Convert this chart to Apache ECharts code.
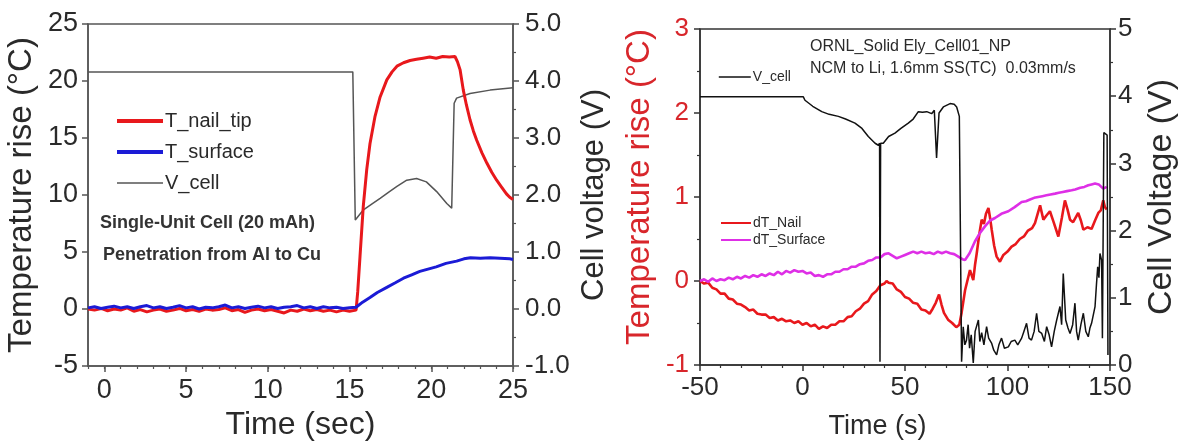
<!DOCTYPE html>
<html>
<head>
<meta charset="utf-8">
<script src="https://cdn.jsdelivr.net/npm/echarts@6/dist/echarts.min.js"></script>
<style>
  html, body { margin: 0; padding: 0; background: #fff; }
  #wrap { position: relative; width: 1178px; height: 444px; overflow: hidden; }
  .panel { position: absolute; left: 0; top: 0; width: 1178px; height: 444px; }
</style>
</head>
<body>
<div id="wrap">
  <div id="left" class="panel"></div>
  <div id="right" class="panel"></div>
</div>
<script>
// ---------- Single-unit cell nail test: [time s, value] ----------
const nailTip = [
  [-1,0.00],[-0.6,-0.10],[-0.2,0.05],[0.2,-0.15],[0.6,0.00],[1.0,-0.10],[1.4,0.10],[1.8,-0.20],
  [2.2,-0.05],[2.6,-0.25],[3.0,-0.10],[3.4,0.00],[3.8,-0.20],[4.2,-0.10],[4.6,0.05],[5.0,-0.15],
  [5.4,-0.05],[5.8,-0.20],[6.2,0.00],[6.6,-0.10],[7.0,-0.05],[7.4,0.10],[7.8,-0.15],[8.2,-0.05],
  [8.6,-0.30],[9.0,-0.10],[9.4,0.00],[9.8,-0.15],[10.2,-0.05],[10.6,-0.20],[11.0,-0.35],[11.4,-0.10],
  [11.8,-0.20],[12.2,0.00],[12.6,-0.15],[13.0,-0.05],[13.4,-0.20],[13.8,-0.10],[14.2,-0.25],[14.6,-0.10],
  [15.0,-0.20],[15.4,-0.10],[15.5,1.5],[15.64,4.6],[15.84,9.0],[16.05,12.2],[16.25,14.5],[16.56,16.9],
  [16.87,18.6],[17.28,20.1],[17.6,20.8],[17.9,21.3],[18.3,21.6],[18.7,21.8],[19.1,21.9],[19.5,22.0],
  [19.9,22.1],[20.3,22.0],[20.7,22.15],[21.1,22.1],[21.45,22.15],[21.6,21.7],[21.76,21.0],[21.96,19.2],
  [22.15,17.9],[22.37,16.6],[22.58,15.6],[22.78,14.8],[23.1,13.7],[23.4,12.8],[23.7,12.0],[24.0,11.3],
  [24.3,10.7],[24.6,10.1],[24.8,9.8],[25,9.6]
];
const surface = [
  [-1,0.10],[-0.6,0.20],[-0.2,0.05],[0.2,0.15],[0.6,0.25],[1.0,0.10],[1.4,0.20],[1.8,0.05],
  [2.2,0.20],[2.6,0.30],[3.0,0.10],[3.4,0.20],[3.8,0.05],[4.2,0.15],[4.6,0.30],[5.0,0.10],
  [5.4,0.20],[5.8,0.00],[6.2,0.15],[6.6,0.10],[7.0,0.20],[7.4,0.35],[7.8,0.10],[8.2,0.20],
  [8.6,0.05],[9.0,0.15],[9.4,0.25],[9.8,0.10],[10.2,0.20],[10.6,0.05],[11.0,0.15],[11.4,0.20],
  [11.8,0.30],[12.2,0.10],[12.6,0.20],[13.0,0.05],[13.4,0.20],[13.8,0.10],[14.2,0.15],[14.6,0.05],
  [15.0,0.10],[15.4,0.15],[15.8,0.60],[16.25,1.00],[16.7,1.45],[17.28,1.90],[17.8,2.30],[18.3,2.70],
  [18.8,3.00],[19.3,3.30],[19.8,3.50],[20.3,3.70],[20.9,4.00],[21.55,4.20],[22.0,4.40],[22.4,4.50],
  [23.0,4.45],[23.6,4.50],[24.2,4.45],[24.8,4.40],[25,4.35]
];
const cellVoltage = [
  [-1,4.16],[15.2,4.16],[15.35,1.56],[15.85,1.74],[16.4,1.85],[16.87,1.94],[17.4,2.05],[17.9,2.15],
  [18.5,2.26],[19.1,2.29],[19.7,2.23],[20.33,2.06],[20.95,1.85],[21.25,1.77],[21.35,1.80],[21.4,3.61],
  [21.55,3.70],[22.37,3.78],[23.6,3.84],[25,3.88]
];
const timeTicksA = [0, 5, 10, 15, 20, 25];

// ---------- ORNL solid electrolyte cell: [time s, value] ----------
const dTNail = [
  [-50,0.00],[-48,-0.03],[-46,-0.02],[-44,-0.08],[-42,-0.10],[-40,-0.15],[-38,-0.15],[-36,-0.21],
  [-34,-0.22],[-32,-0.27],[-30,-0.28],[-28,-0.31],[-26,-0.35],[-24,-0.34],[-22,-0.39],[-20,-0.40],
  [-18,-0.40],[-16,-0.44],[-14,-0.43],[-12,-0.47],[-10,-0.45],[-8,-0.48],[-6,-0.47],[-4,-0.50],
  [-2,-0.48],[0,-0.52],[2,-0.50],[4,-0.54],[6,-0.52],[8,-0.57],[10,-0.54],[12,-0.56],[14,-0.52],
  [16,-0.52],[18,-0.48],[20,-0.48],[22,-0.43],[24,-0.42],[26,-0.36],[28,-0.33],[30,-0.27],[32,-0.24],
  [34,-0.16],[36,-0.12],[38,-0.05],[40,-0.03],[41,0.00],[42,-0.02],[44,-0.03],[46,-0.10],[48,-0.13],
  [50,-0.19],[52,-0.21],[54,-0.26],[56,-0.27],[58,-0.34],[60,-0.35],[62,-0.39],[63.5,-0.33],[65,-0.26],
  [66.6,-0.16],[67.8,-0.28],[69,-0.38],[71,-0.46],[73,-0.50],[75,-0.55],[76.5,-0.52],[77.6,-0.38],
  [79.3,-0.11],[80.9,0.05],[81.7,0.13],[83.3,0.01],[84.2,0.20],[85,0.33],[86.2,0.55],[87.4,0.73],
  [88.5,0.68],[89.5,0.80],[90.7,0.87],[91.5,0.75],[92.3,0.61],[93.5,0.42],[94.7,0.29],[96.3,0.23],
  [98,0.31],[100,0.35],[102,0.41],[104,0.44],[106,0.50],[108,0.53],[110,0.60],[112,0.63],[113.4,0.69],
  [115.9,0.90],[117.5,0.73],[119,0.78],[120.7,0.83],[122.5,0.70],[124.8,0.53],[126.5,0.75],[128,0.96],
  [129.3,0.85],[130.5,0.73],[132,0.70],[134.5,0.81],[135.8,0.72],[137,0.61],[139,0.64],[141,0.62],
  [142.7,0.72],[144.3,0.81],[145.5,0.84],[146.7,0.96],[147.5,0.88],[148.4,0.85]
];
const dTSurface = [
  [-50,0.00],[-48,0.02],[-46,-0.01],[-44,0.03],[-42,0.00],[-40,0.02],[-38,0.01],[-36,0.04],[-34,0.02],
  [-32,0.05],[-30,0.03],[-28,0.06],[-26,0.04],[-24,0.07],[-22,0.05],[-20,0.08],[-18,0.06],[-16,0.09],
  [-14,0.07],[-12,0.11],[-10,0.08],[-8,0.12],[-6,0.10],[-4,0.13],[-2,0.11],[0,0.12],[2,0.09],[4,0.10],
  [6,0.06],[8,0.07],[10,0.05],[12,0.08],[14,0.08],[16,0.11],[18,0.11],[20,0.14],[22,0.14],[24,0.17],
  [26,0.17],[28,0.20],[30,0.21],[32,0.24],[34,0.25],[36,0.28],[38,0.28],[40,0.32],[42,0.33],[44,0.30],
  [46,0.27],[48,0.29],[50,0.31],[52,0.33],[54,0.35],[56,0.33],[58,0.35],[60,0.33],[62,0.34],[64,0.32],
  [66,0.35],[68,0.33],[70,0.35],[72,0.33],[74,0.32],[76,0.29],[78,0.26],[79.3,0.25],[81.5,0.33],
  [84.1,0.47],[86.5,0.57],[89,0.65],[91.5,0.72],[93.9,0.75],[97,0.80],[100.4,0.83],[103.5,0.88],
  [106.9,0.94],[109,0.95],[111,0.97],[113,0.99],[115,1.00],[117,1.01],[119,1.02],[121,1.03],[123.2,1.04],
  [125,1.05],[127,1.06],[129,1.07],[131.3,1.08],[133,1.09],[135.5,1.11],[137.5,1.12],[139.4,1.14],
  [141,1.15],[142.7,1.16],[144.5,1.15],[146.7,1.10],[148.4,1.12]
];
const vCell = [
  [-50,3.99],[0.4,3.99],[1.2,3.94],[5,3.85],[9.4,3.77],[13,3.73],[17.5,3.70],[21,3.66],[25.6,3.60],
  [29,3.52],[32.1,3.40],[35.4,3.30],[37,3.27],[37.6,3.30],[37.8,0.05],[38.1,3.30],[39.4,3.30],[42,3.40],
  [45.1,3.45],[48,3.52],[51.6,3.60],[54,3.66],[56.5,3.77],[58.5,3.76],[60.6,3.77],[63,3.74],[64.3,3.79],
  [65.4,3.08],[66.6,3.75],[68.7,3.84],[72,3.89],[74,3.88],[75.2,3.84],[76.5,3.70],[77.6,0.05],
  [78.4,0.57],[79.2,0.30],[80,0.37],[80.8,0.60],[81.5,0.25],[82.3,0.45],[83.3,0.03],[84.2,0.50],
  [85.8,0.67],[86.5,0.35],[87.4,0.48],[88.5,0.30],[89.8,0.57],[90.8,0.40],[92.3,0.32],[93.3,0.22],
  [94.7,0.15],[95.8,0.30],[97.1,0.40],[98.5,0.25],[100.4,0.27],[101.8,0.35],[103.6,0.37],[105,0.30],
  [106.9,0.40],[108,0.50],[109.3,0.62],[110.5,0.40],[111.7,0.37],[113,0.50],[114.2,0.77],[115.3,0.50],
  [116.7,0.47],[118,0.35],[119.1,0.57],[120.3,0.45],[121.5,0.27],[122.8,0.50],[124.0,0.67],[125.6,0.87],
  [126.4,0.60],[127.2,1.36],[128.4,0.67],[129.5,0.55],[130.5,0.47],[131.8,0.60],[132.9,0.92],[133.7,0.50],
  [134.5,0.37],[135.8,0.60],[137,0.77],[138.2,0.50],[139.4,0.42],[140.2,0.55],[141,0.62],[142.7,0.87],
  [143.4,1.20],[144,1.46],[144.6,1.30],[145.1,1.66],[145.9,1.56],[146.3,0.40],[147.0,3.46],[148.6,3.42],
  [149.0,0.15]
];

const FONT = "'Liberation Sans', Arial, Helvetica, sans-serif";
const AXIS_A = '#555';
const TEXT = '#2a2a2a';
const RED = '#e8181c';
const BLUE = '#1b1bd6';
const MAGENTA = '#de2fe6';
const RED_AXIS = '#d8262b';

// frame axes stay on the plot edge, never on zero
function frameLine(color) {
  return { show: true, onZero: false, lineStyle: { color: color, width: 1.5 } };
}

// ---------- left panel ----------
const left = echarts.init(document.getElementById('left'), null, { renderer: 'canvas' });
left.setOption({
  animation: false,
  textStyle: { fontFamily: FONT },
  grid: { left: 88, right: 665, top: 24, bottom: 78, show: true, borderColor: AXIS_A, borderWidth: 1.5,
          outerBoundsMode: 'none', containLabel: false },
  legend: {
    orient: 'vertical', left: 110, top: 106, itemWidth: 46, itemHeight: 14, itemGap: 11,
    itemStyle: { opacity: 0 },
    lineStyle: { width: 4 },
    textStyle: { fontFamily: FONT, fontSize: 20, color: TEXT, padding: [0, 0, 0, -3] },
    data: [
      { name: 'T_nail_tip' },
      { name: 'T_surface' },
      { name: 'V_cell', lineStyle: { width: 1.6 } }
    ]
  },
  graphic: [
    { type: 'text', left: 100, top: 214, style: { text: 'Single-Unit Cell (20 mAh)', font: 'bold 18px ' + FONT, fill: '#333' } },
    { type: 'text', left: 103, top: 246, style: { text: 'Penetration from Al to Cu', font: 'bold 18px ' + FONT, fill: '#333' } }
  ],
  xAxis: [
    {
      type: 'value', min: -1, max: 25,
      name: 'Time (sec)', nameLocation: 'middle', nameGap: 40,
      nameTextStyle: { fontSize: 32, color: TEXT, fontFamily: FONT },
      axisLine: frameLine(AXIS_A),
      axisTick: { customValues: timeTicksA, length: 6, lineStyle: { color: AXIS_A, width: 1.5 } },
      axisLabel: { customValues: timeTicksA, fontSize: 27, color: TEXT, margin: 11, fontFamily: FONT },
      splitLine: { show: false }
    },
    {
      type: 'value', min: -1, max: 25, interval: 1, position: 'bottom',
      axisLine: { show: false, onZero: false },
      axisTick: { length: 3, lineStyle: { color: AXIS_A, width: 1.2 } },
      axisLabel: { show: false }, splitLine: { show: false }
    }
  ],
  yAxis: [
    {
      type: 'value', min: -5, max: 25, interval: 5, position: 'left',
      name: 'Temperature rise (°C)', nameLocation: 'middle', nameGap: 50,
      nameTextStyle: { fontSize: 33, color: TEXT, fontFamily: FONT },
      axisLine: frameLine(AXIS_A),
      axisTick: { show: true, length: 6, lineStyle: { color: AXIS_A, width: 1.5 } },
      axisLabel: { fontSize: 27, color: TEXT, margin: 10, fontFamily: FONT },
      splitLine: { show: false }
    },
    {
      type: 'value', min: -1, max: 5, interval: 1, position: 'right',
      name: 'Cell voltage (V)', nameLocation: 'middle', nameGap: 66, nameRotate: 90,
      nameTextStyle: { fontSize: 31, color: TEXT, fontFamily: FONT },
      axisLine: frameLine(AXIS_A),
      axisTick: { show: true, length: 6, lineStyle: { color: AXIS_A, width: 1.5 } },
      minorTick: { show: true, splitNumber: 2, length: 3, lineStyle: { color: AXIS_A, width: 1.2 } },
      axisLabel: { fontSize: 26, color: TEXT, margin: 12, fontFamily: FONT, formatter: v => v.toFixed(1) },
      splitLine: { show: false }
    }
  ],
  series: [
    { name: 'V_cell', type: 'line', yAxisIndex: 1, data: cellVoltage, symbol: 'none',
      lineStyle: { color: '#555', width: 1.5 }, itemStyle: { color: '#555' }, z: 2 },
    { name: 'T_nail_tip', type: 'line', yAxisIndex: 0, data: nailTip, symbol: 'none',
      lineStyle: { color: RED, width: 3 }, itemStyle: { color: RED }, z: 3 },
    { name: 'T_surface', type: 'line', yAxisIndex: 0, data: surface, symbol: 'none',
      lineStyle: { color: BLUE, width: 3 }, itemStyle: { color: BLUE }, z: 4 }
  ]
});

// ---------- right panel ----------
const right = echarts.init(document.getElementById('right'), null, { renderer: 'canvas' });
right.setOption({
  animation: false,
  textStyle: { fontFamily: FONT },
  grid: { left: 700, right: 68, top: 29, bottom: 79, show: true, borderColor: '#333', borderWidth: 1.5,
          outerBoundsMode: 'none', containLabel: false },
  legend: [
    {
      orient: 'vertical', left: 713, top: 65, itemWidth: 32, itemHeight: 14,
      itemStyle: { opacity: 0 }, lineStyle: { width: 1.6 },
      textStyle: { fontFamily: FONT, fontSize: 14, color: TEXT, padding: [0, 0, 0, -3] },
      data: ['V_cell']
    },
    {
      orient: 'vertical', left: 715, top: 211, itemWidth: 30, itemHeight: 14, itemGap: 3,
      itemStyle: { opacity: 0 }, lineStyle: { width: 2 },
      textStyle: { fontFamily: FONT, fontSize: 14, color: TEXT, padding: [0, 0, 0, -3] },
      data: ['dT_Nail', 'dT_Surface']
    }
  ],
  graphic: [
    { type: 'text', left: 810, top: 39, style: { text: 'ORNL_Solid Ely_Cell01_NP', font: '16px ' + FONT, fill: TEXT } },
    { type: 'text', left: 810, top: 61, style: { text: 'NCM to Li, 1.6mm SS(TC)  0.03mm/s', font: '16px ' + FONT, fill: TEXT } }
  ],
  xAxis: {
    type: 'value', min: -50, max: 150, interval: 50,
    name: 'Time (s)', nameLocation: 'middle', nameGap: 48,
    nameTextStyle: { fontSize: 27, color: TEXT, fontFamily: FONT, padding: [0, 55, 0, 0] },
    axisLine: frameLine('#333'),
    axisTick: { length: 6, lineStyle: { color: '#333', width: 1.5 } },
    minorTick: { show: true, splitNumber: 5, length: 3, lineStyle: { color: '#333', width: 1.2 } },
    axisLabel: { fontSize: 26, color: TEXT, margin: 10, fontFamily: FONT },
    splitLine: { show: false }
  },
  yAxis: [
    {
      type: 'value', min: -1, max: 3, interval: 1, position: 'left',
      name: 'Temperature rise (°C)', nameLocation: 'middle', nameGap: 44,
      nameTextStyle: { fontSize: 33, color: RED_AXIS, fontFamily: FONT, padding: [0, 0, 0, 20] },
      axisLine: frameLine('#333'),
      axisTick: { show: true, length: 6, lineStyle: { color: '#333', width: 1.5 } },
      minorTick: { show: true, splitNumber: 2, length: 3, lineStyle: { color: '#333', width: 1.2 } },
      axisLabel: { fontSize: 26, color: RED_AXIS, margin: 11, fontFamily: FONT },
      splitLine: { show: false }
    },
    {
      type: 'value', min: 0, max: 5, interval: 1, position: 'right',
      name: 'Cell Voltage (V)', nameLocation: 'middle', nameGap: 35, nameRotate: 90,
      nameTextStyle: { fontSize: 34, color: TEXT, fontFamily: FONT },
      axisLine: frameLine('#333'),
      axisTick: { show: true, length: 6, lineStyle: { color: '#333', width: 1.5 } },
      minorTick: { show: true, splitNumber: 2, length: 3, lineStyle: { color: '#333', width: 1.2 } },
      axisLabel: { fontSize: 26, color: TEXT, margin: 8, fontFamily: FONT },
      splitLine: { show: false }
    }
  ],
  series: [
    { name: 'dT_Nail', type: 'line', yAxisIndex: 0, data: dTNail, symbol: 'none',
      lineStyle: { color: RED, width: 2.6 }, itemStyle: { color: RED }, z: 2 },
    { name: 'dT_Surface', type: 'line', yAxisIndex: 0, data: dTSurface, symbol: 'none',
      lineStyle: { color: MAGENTA, width: 2.6 }, itemStyle: { color: MAGENTA }, z: 3 },
    { name: 'V_cell', type: 'line', yAxisIndex: 1, data: vCell, symbol: 'none',
      lineStyle: { color: '#111', width: 1.5 }, itemStyle: { color: '#111' }, z: 4 }
  ]
});
</script>
</body>
</html>
